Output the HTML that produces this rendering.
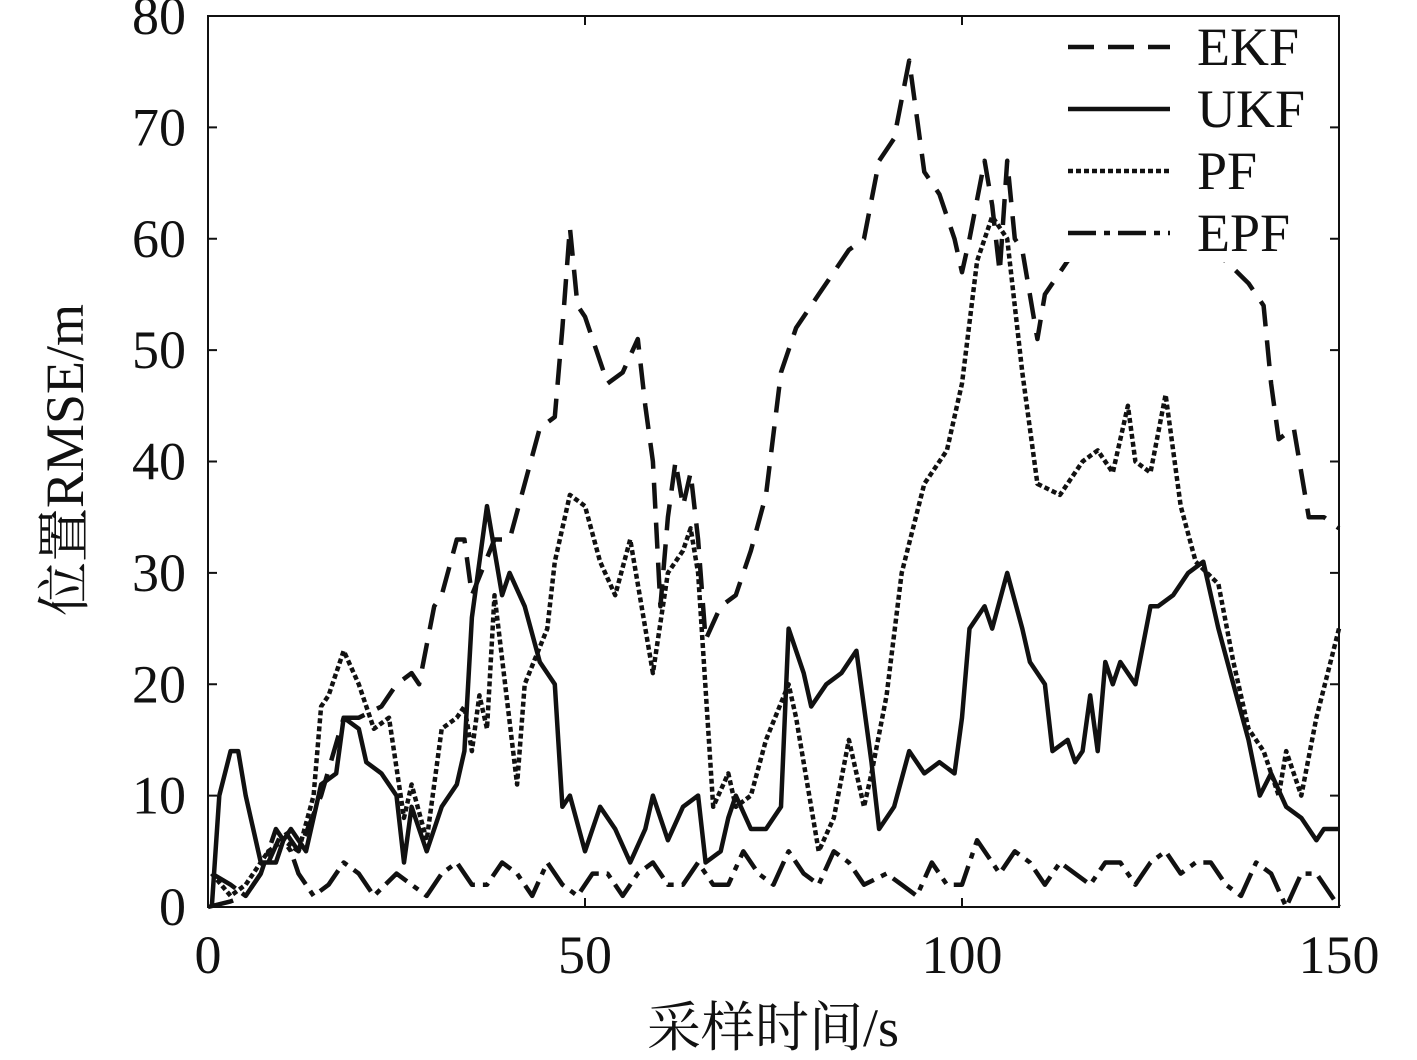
<!DOCTYPE html>
<html><head><meta charset="utf-8"><style>
html,body{margin:0;padding:0;background:#fff}
svg{display:block}
text{font-family:"Liberation Serif","Noto Serif CJK SC",serif;fill:#111}
</style></head><body>
<svg id="chart" width="1417" height="1060" viewBox="0 0 1417 1060" xmlns="http://www.w3.org/2000/svg"></svg>
<script>
const xTicks=[0,50,100,150];
const yTicks=[0,10,20,30,40,50,60,70,80];
const ekfX=[0,3,5,8,10,12,15,18,20,23,25,27,28,30,31,33,34,35,38,40,42,44,46,47,48,49,50,52,53,55,57,58,59,60,61,62,63,64,65,66,68,70,72,74,76,78,81,83,85,87,89,91,93,95,97,99,100,101,103,104,105,106,107,108,110,111,114,118,124,130,135,138,140,141,142,144,146,148,150];
const ekfY=[0,0.5,1,4,7,5,10,17,17,18,20,21,20,27,28,33,33,28,33,33,38,43,44,52,61,54,53,49,47,48,51,45,40,27,35,40,36,39,33,24,27,28,32,37,48,52,55,57,59,60,67,69,76,66,64,60,57,60,67,63,57,67,60,59,51,55,58,60,61,60,58,56,54,47,42,43,35,35,34];
const ukfX=[0.5,1.5,3,4,5,7,9,10,11,13,15,17,18,20,21,23,25,26,27,29,31,33,34,35,37,39,40,42,44,46,47,48,50,52,54,56,58,59,61,63,65,66,68,69,70,72,74,76,77,79,80,82,84,86,88,89,91,93,95,97,99,100,101,103,104,106,108,109,111,112,114,115,116,117,118,119,120,121,123,125,126,128,130,132,134,136,138,139.5,141,143,145,147,148,150];
const ukfY=[0,10,14,14,10,4,4,6,7,5,11,12,17,16,13,12,10,4,9,5,9,11,14,26,36,28,30,27,22,20,9,10,5,9,7,4,7,10,6,9,10,4,5,8,10,7,7,9,25,21,18,20,21,23,13,7,9,14,12,13,12,17,25,27,25,30,25,22,20,14,15,13,14,19,14,22,20,22,20,27,27,28,30,31,25,20,15,10,12,9,8,6,7,7];
const pfX=[0.5,3,5,8,10,12,14,15,16,18,20,22,24,26,27,29,31,33,34,35,36,37,38,41,42,45,46,48,50,52,54,56,57,59,61,63,64,65,67,69,70,72,74,77,78,81,83,85,87,88,90,92,95,98,100,102,104,106,108,110,113,116,118,120,122,123,125,127,129,131,134,136,138,140,142,143,145,147,150];
const pfY=[3,1,2,5,6,5,10,18,19,23,20,16,17,8,11,6,16,17,18,14,19,16,28,11,20,25,31,37,36,31,28,33,29,21,30,32,34,30,9,12,9,10,15,20,17,5,8,15,9,12,19,30,38,41,47,58,62,60,48,38,37,40,41,39,45,40,39,46,36,31,29,22,16,14,10,14,10,17,25];
const epfX=[0.5,3,5,7,9,11,12,14,16,18,20,22,25,27,29,31,33,35,37,39,41,43,45,47,49,51,53,55,57,59,61,63,65,67,69,71,73,75,77,79,81,83,85,87,90,92,94,96,98,100,102,104,105,107,109,111,113,115,117,119,121,123,125,127,129,131,133,135,137,139,141,143,145,147,149,150];
const epfY=[3,2,1,3,7,5,3,1,2,4,3,1,3,2,1,3,4,2,2,4,3,1,4,2,1,3,3,1,3,4,2,2,4,2,2,5,3,2,5,3,2,5,4,2,3,2,1,4,2,2,6,4,3,5,4,2,4,3,2,4,4,2,4,5,3,4,4,2,1,4,3,0,3,3,1,0];

const L=208,R=1339,T=16,B=907;
const sx=v=>L+(v-0)/150*(R-L);
const sy=v=>B-(v-0)/80*(B-T);
const svg=document.getElementById('chart');
const NS='http://www.w3.org/2000/svg';
function mk(tag,attrs,parent){const e=document.createElementNS(NS,tag);for(const k in attrs)e.setAttribute(k,attrs[k]);(parent||svg).appendChild(e);return e;}

xTicks.forEach(t=>{
  const g=mk('g',{});
  
  
  mk('line',{x1:sx(t),x2:sx(t),y1:B,y2:B-9,stroke:'#111','stroke-width':2},g);
  mk('line',{x1:sx(t),x2:sx(t),y1:T,y2:T+9,stroke:'#111','stroke-width':2},g);
  const tx=mk('text',{x:sx(t),y:973,'text-anchor':'middle','font-size':54},g);tx.textContent=t;
});
yTicks.forEach(t=>{
  const g=mk('g',{});
  
  
  mk('line',{x1:L,x2:L+9,y1:sy(t),y2:sy(t),stroke:'#111','stroke-width':2},g);
  mk('line',{x1:R,x2:R-9,y1:sy(t),y2:sy(t),stroke:'#111','stroke-width':2},g);
  const tx=mk('text',{x:186,y:sy(t)+18,'text-anchor':'end','font-size':54},g);tx.textContent=t;
});
const xl=mk('text',{x:773,y:1046,'text-anchor':'middle','font-size':54});xl.textContent='采样时间/s';


const yl=mk('text',{x:0,y:0,'text-anchor':'middle','font-size':54,transform:'translate(83,460) rotate(-90)'});yl.textContent='位置RMSE/m';



const series=[
 {n:'ekf',xs:ekfX,ys:ekfY,dash:'26,14',w:4.5,label:'EKF'},
 {n:'ukf',xs:ukfX,ys:ukfY,dash:'',w:4.5,label:'UKF'},
 {n:'pf',xs:pfX,ys:pfY,dash:'5,3',w:4.5,label:'PF'},
 {n:'epf',xs:epfX,ys:epfY,dash:'28,8,6,8',w:4.5,label:'EPF'}
];
series.forEach((s,i)=>{
  const d=s.xs.map((x,j)=>(j?'L':'M')+sx(x).toFixed(1)+','+sy(s.ys[j]).toFixed(1)).join(' ');
  const p=mk('path',{d:d,fill:'none',stroke:'#111','stroke-width':s.w,'stroke-dasharray':s.dash,'stroke-linejoin':'round'});
  
  
});
const lg=mk('rect',{x:1058,y:20,width:262,height:242,fill:'#fff'});


series.forEach((s,i)=>{
  const y=47+i*62;
  const g=mk('g',{});
  
  
  mk('line',{x1:1068,x2:1170,y1:y,y2:y,stroke:'#111','stroke-width':s.w,'stroke-dasharray':s.dash},g);
  const t=mk('text',{x:1197,y:y+18,'font-size':54},g);t.textContent=s.label;
});
const frame=mk('rect',{x:L,y:T,width:R-L,height:B-T,fill:'none',stroke:'#111','stroke-width':2});


</script>
</body></html>
